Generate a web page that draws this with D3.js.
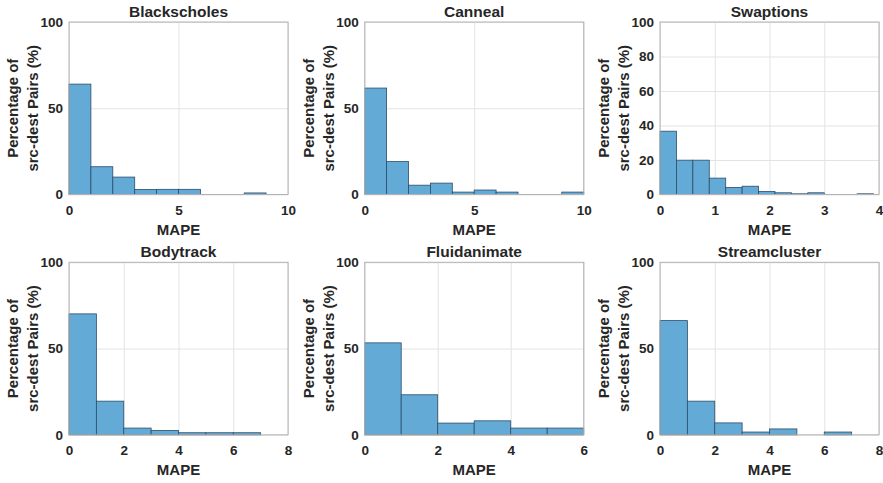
<!DOCTYPE html>
<html lang="en">
  <head>
    <title>MAPE histograms</title>
    <script src="https://d3js.org/d3.v7.min.js"></script>
    <style>
      body {
        margin: 0;
        background: #fff;
      }
      text {
        font-family: "Liberation Sans", Arial, sans-serif;
        font-weight: bold;
        fill: #262626;
      }
      .gridlines line {
        stroke: #e3e3e3;
      }
      .gridlines .domain {
        stroke: none;
      }
      .axis .domain,
      .axis line {
        stroke: none;
      }
    </style>
  </head>
  <body>
    <svg id="chart" width="883" height="483"></svg>
    <script>
      const titles = [
        "Blackscholes",
        "Canneal",
        "Swaptions",
        "Bodytrack",
        "Fluidanimate",
        "Streamcluster",
      ];
      const binWidths = [1, 1, 0.3, 1, 1, 1];
      const xMax = [10, 10, 4, 8, 6, 8];
      const xTicks = [
        [0, 5, 10],
        [0, 5, 10],
        [0, 1, 2, 3, 4],
        [0, 2, 4, 6, 8],
        [0, 2, 4, 6],
        [0, 2, 4, 6, 8],
      ];
      const yTicks = [
        [0, 50, 100],
        [0, 50, 100],
        [0, 20, 40, 60, 80, 100],
        [0, 50, 100],
        [0, 50, 100],
        [0, 50, 100],
      ];
      const blackscholes = [64, 16.1, 10.1, 2.9, 3, 3, 0, 0, 0.9, 0];
      const canneal = [61.7, 19.1, 5.4, 6.6, 1.4, 2.6, 1.4, 0, 0, 1.4];
      const swaptions = [
        36.7, 19.9, 19.9, 9.5, 4.1, 4.8, 1.7, 1.0, 0.4, 1.0, 0, 0, 0.4,
      ];
      const bodytrack = [70.1, 19.5, 3.9, 2.5, 1.2, 1.2, 1.2, 0];
      const fluidanimate = [53.3, 23.2, 6.8, 8.1, 3.9, 3.9];
      const streamcluster = [66.2, 19.5, 6.9, 1.6, 3.4, 0, 1.6, 0];
      const series = [
        blackscholes,
        canneal,
        swaptions,
        bodytrack,
        fluidanimate,
        streamcluster,
      ];

      const svg = d3.select("svg#chart");
      const lefts = [69, 364.7, 660];
      const tops = [22, 262.3];
      const plotW = 219;
      const plotH = 172.5;

      titles.forEach((title, i) => {
        const x0 = lefts[i % 3];
        const y0 = tops[Math.floor(i / 3)];
        const g = svg
          .append("g")
          .attr("transform", `translate(${x0},${y0})`);

        const xScale = d3.scaleLinear().domain([0, xMax[i]]).range([0, plotW]);
        const yScale = d3.scaleLinear().domain([0, 100]).range([plotH, 0]);

        // grid
        g.append("g")
          .attr("class", "gridlines")
          .attr("transform", `translate(0,${plotH})`)
          .call(
            d3.axisBottom(xScale).tickValues(xTicks[i]).tickSize(-plotH).tickFormat("")
          );
        g.append("g")
          .attr("class", "gridlines")
          .call(
            d3.axisLeft(yScale).tickValues(yTicks[i]).tickSize(-plotW).tickFormat("")
          );

        // bars
        const bins = series[i]
          .map((v, k) => ({ x: k * binWidths[i], v: v }))
          .filter((d) => d.v > 0);
        g.selectAll("rect.bar")
          .data(bins)
          .enter()
          .append("rect")
          .attr("class", "bar")
          .attr("x", (d) => xScale(d.x))
          .attr("y", (d) => yScale(d.v))
          .attr("width", (d) => xScale(d.x + binWidths[i]) - xScale(d.x))
          .attr("height", (d) => plotH - yScale(d.v))
          .attr("fill", "#64aad7")
          .attr("stroke", "#2b4d69")
          .attr("stroke-width", 0.8);

        // box
        g.append("rect")
          .attr("width", plotW)
          .attr("height", plotH)
          .attr("fill", "none")
          .attr("stroke", "#b3b3b3")
          .attr("stroke-width", 1);

        // tick labels
        g.append("g")
          .attr("class", "axis")
          .attr("transform", `translate(0,${plotH})`)
          .call(
            d3.axisBottom(xScale).tickValues(xTicks[i]).tickFormat(d3.format("d"))
              .tickSize(0).tickPadding(11)
          )
          .selectAll("text")
          .style("font-size", "13.5px");
        g.append("g")
          .attr("class", "axis")
          .call(
            d3.axisLeft(yScale).tickValues(yTicks[i]).tickFormat(d3.format("d"))
              .tickSize(0).tickPadding(6)
          )
          .selectAll("text")
          .style("font-size", "13.5px");

        // title
        g.append("text")
          .attr("x", plotW / 2)
          .attr("y", -5)
          .attr("text-anchor", "middle")
          .style("font-size", "15.5px")
          .text(title);

        // x label
        g.append("text")
          .attr("x", plotW / 2)
          .attr("y", plotH + 40)
          .attr("text-anchor", "middle")
          .style("font-size", "15px")
          .text("MAPE");

        // y label, two lines
        const yl = g
          .append("text")
          .attr("transform", `translate(-51,${plotH / 2}) rotate(-90)`)
          .attr("text-anchor", "middle")
          .style("font-size", "15px");
        yl.append("tspan").attr("x", 0).attr("dy", 0).text("Percentage of");
        yl.append("tspan").attr("x", 0).attr("dy", 20).text("src-dest Pairs (%)");
      });
    </script>
  </body>
</html>
